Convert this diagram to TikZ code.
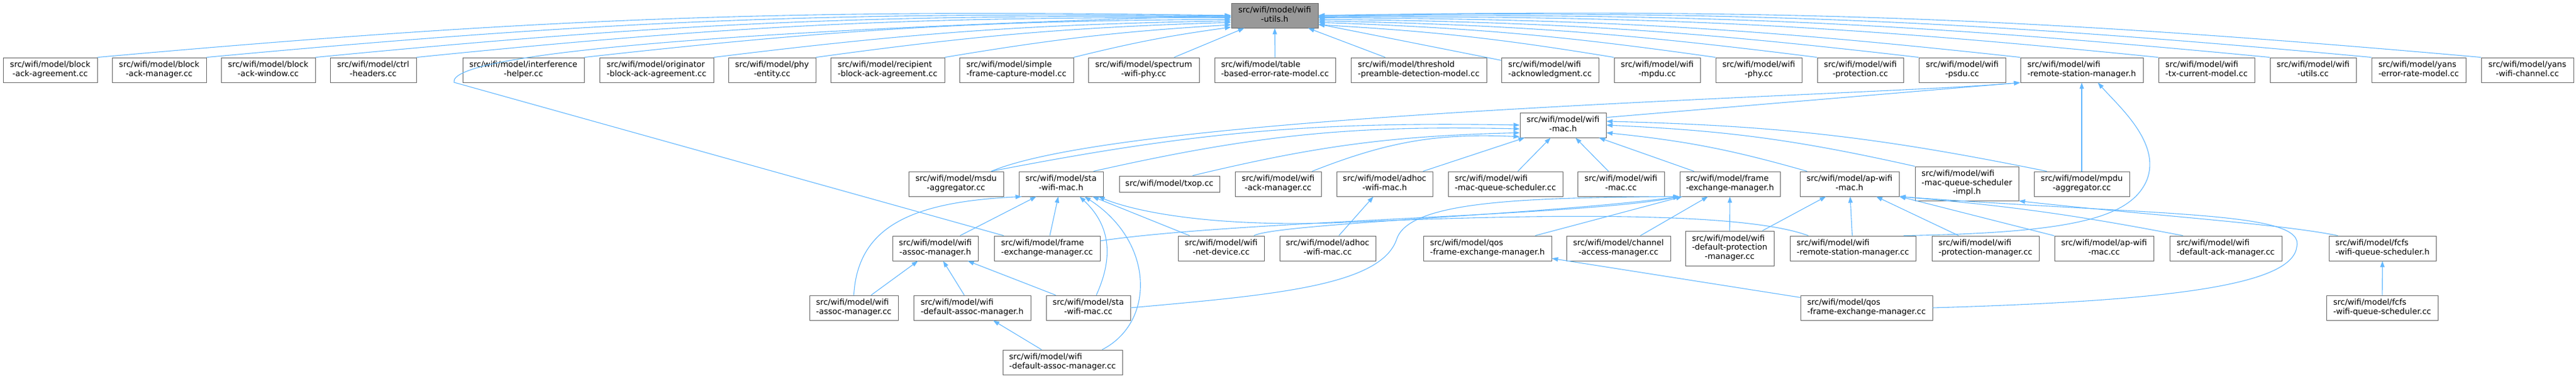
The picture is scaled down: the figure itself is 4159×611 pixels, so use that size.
\documentclass[tikz,border=0pt]{standalone}
\usepackage{fontspec}
\setmainfont{DejaVu Sans}
\usetikzlibrary{arrows.meta,calc}
\definecolor{edgeblue}{RGB}{99,184,255}
\definecolor{boxline}{RGB}{102,102,102}
\definecolor{rootfill}{RGB}{153,153,153}
\newcommand{\lbltwo}[2]{\begin{tabular}{@{}l@{}}#1\\\multicolumn{1}{@{}c@{}}{#2}\end{tabular}}
\newcommand{\lblthree}[3]{\begin{tabular}{@{}l@{}}#1\\#2\\\multicolumn{1}{@{}c@{}}{#3}\end{tabular}}
\begin{document}
\begin{tikzpicture}[x=1pt,y=1pt,
    srcbox/.style={draw=boxline, fill=white, line width=0.9pt, inner sep=1pt, minimum height=40pt, font=\fontsize{13}{14.5}\selectfont},
    incl/.style={draw=edgeblue, line width=1.1pt, -{Triangle[length=10pt,width=7pt]}},
    arcl/.style={to path={.. controls ($(\tikztostart)!0.39!#1:(\tikztotarget)$) and ($(\tikztotarget)!0.39!-#1:(\tikztostart)$) .. (\tikztotarget)}},
    arcr/.style={to path={.. controls ($(\tikztostart)!0.39!-#1:(\tikztotarget)$) and ($(\tikztotarget)!0.39!#1:(\tikztostart)$) .. (\tikztotarget)}}]
    \fill[white] (0,0) rectangle (4159,611);
    \node[srcbox, fill=rootfill, minimum width=140pt] (utilsH) at (2058,586) {\lbltwo{src/wifi/model/wifi}{-utils.h}};

    \node[srcbox, minimum width=152pt] (blkAgr) at (81,498) {\lbltwo{src/wifi/model/block}{-ack-agreement.cc}};
    \node[srcbox, minimum width=152pt] (blkMgr) at (257,498) {\lbltwo{src/wifi/model/block}{-ack-manager.cc}};
    \node[srcbox, minimum width=152pt] (blkWin) at (433,498) {\lbltwo{src/wifi/model/block}{-ack-window.cc}};
    \node[srcbox, minimum width=139pt] (ctrlHdr) at (602.5,498) {\lbltwo{src/wifi/model/ctrl}{-headers.cc}};
    \node[srcbox, minimum width=196pt] (interf) at (845,498) {\lbltwo{src/wifi/model/interference}{-helper.cc}};
    \node[srcbox, minimum width=184pt] (origAgr) at (1060,498) {\lbltwo{src/wifi/model/originator}{-block-ack-agreement.cc}};
    \node[srcbox, minimum width=141pt] (phyEnt) at (1246.5,498) {\lbltwo{src/wifi/model/phy}{-entity.cc}};
    \node[srcbox, minimum width=184pt] (recipAgr) at (1433,498) {\lbltwo{src/wifi/model/recipient}{-block-ack-agreement.cc}};
    \node[srcbox, minimum width=184pt] (simpleCap) at (1641,498) {\lbltwo{src/wifi/model/simple}{-frame-capture-model.cc}};
    \node[srcbox, minimum width=179pt] (spectrum) at (1846.5,498) {\lbltwo{src/wifi/model/spectrum}{-wifi-phy.cc}};
    \node[srcbox, minimum width=195pt] (tableErr) at (2058.5,498) {\lbltwo{src/wifi/model/table}{-based-error-rate-model.cc}};
    \node[srcbox, minimum width=219pt] (thresh) at (2290.5,498) {\lbltwo{src/wifi/model/threshold}{-preamble-detection-model.cc}};
    \node[srcbox, minimum width=157pt] (ackn) at (2502.5,498) {\lbltwo{src/wifi/model/wifi}{-acknowledgment.cc}};
    \node[srcbox, minimum width=139pt] (mpdu) at (2675.5,498) {\lbltwo{src/wifi/model/wifi}{-mpdu.cc}};
    \node[srcbox, minimum width=139pt] (phy) at (2839.5,498) {\lbltwo{src/wifi/model/wifi}{-phy.cc}};
    \node[srcbox, minimum width=139pt] (prot) at (3003.5,498) {\lbltwo{src/wifi/model/wifi}{-protection.cc}};
    \node[srcbox, minimum width=140pt] (psdu) at (3168,498) {\lbltwo{src/wifi/model/wifi}{-psdu.cc}};
    \node[srcbox, minimum width=198pt] (rsmH) at (3361,498) {\lbltwo{src/wifi/model/wifi}{-remote-station-manager.h}};
    \node[srcbox, minimum width=155pt] (txCur) at (3562.5,498) {\lbltwo{src/wifi/model/wifi}{-tx-current-model.cc}};
    \node[srcbox, minimum width=139pt] (utilsCC) at (3734.5,498) {\lbltwo{src/wifi/model/wifi}{-utils.cc}};
    \node[srcbox, minimum width=152pt] (yansErr) at (3905,498) {\lbltwo{src/wifi/model/yans}{-error-rate-model.cc}};
    \node[srcbox, minimum width=149pt] (yansChan) at (4080.5,498) {\lbltwo{src/wifi/model/yans}{-wifi-channel.cc}};

    \node[srcbox, minimum width=139pt] (macH) at (2523.5,409) {\lbltwo{src/wifi/model/wifi}{-mac.h}};

    \node[srcbox, minimum width=153pt] (msduAgg) at (1543.5,314) {\lbltwo{src/wifi/model/msdu}{-aggregator.cc}};
    \node[srcbox, minimum width=136pt] (staMacH) at (1713,314) {\lbltwo{src/wifi/model/sta}{-wifi-mac.h}};
    \node[srcbox, minimum width=162pt, minimum height=26pt] (txop) at (1888,314) {src/wifi/model/txop.cc};
    \node[srcbox, minimum width=139pt] (ackMgr) at (2063.5,314) {\lbltwo{src/wifi/model/wifi}{-ack-manager.cc}};
    \node[srcbox, minimum width=155pt] (adhocH) at (2235.5,314) {\lbltwo{src/wifi/model/adhoc}{-wifi-mac.h}};
    \node[srcbox, minimum width=185pt] (mqSched) at (2430.5,314) {\lbltwo{src/wifi/model/wifi}{-mac-queue-scheduler.cc}};
    \node[srcbox, minimum width=140pt] (macCC) at (2617,314) {\lbltwo{src/wifi/model/wifi}{-mac.cc}};
    \node[srcbox, minimum width=162pt] (femH) at (2793,314) {\lbltwo{src/wifi/model/frame}{-exchange-manager.h}};
    \node[srcbox, minimum width=160pt] (apH) at (2986,314) {\lbltwo{src/wifi/model/ap-wifi}{-mac.h}};
    \node[srcbox, minimum width=167pt, minimum height=55pt] (schedImpl) at (3175.5,314.5) {\lblthree{src/wifi/model/wifi}{-mac-queue-scheduler}{-impl.h}};
    \node[srcbox, minimum width=154pt] (mpduAgg) at (3361,314) {\lbltwo{src/wifi/model/mpdu}{-aggregator.cc}};

    \node[srcbox, minimum width=138pt] (assocH) at (1510,210) {\lbltwo{src/wifi/model/wifi}{-assoc-manager.h}};
    \node[srcbox, minimum width=171pt] (femCC) at (1690.5,210) {\lbltwo{src/wifi/model/frame}{-exchange-manager.cc}};
    \node[srcbox, minimum width=139pt] (netDev) at (1971.5,210) {\lbltwo{src/wifi/model/wifi}{-net-device.cc}};
    \node[srcbox, minimum width=155pt] (adhocCC) at (2143.5,210) {\lbltwo{src/wifi/model/adhoc}{-wifi-mac.cc}};
    \node[srcbox, minimum width=207pt] (qosFemH) at (2401.5,210) {\lbltwo{src/wifi/model/qos}{-frame-exchange-manager.h}};
    \node[srcbox, minimum width=168pt] (chanAcc) at (2613,210) {\lbltwo{src/wifi/model/channel}{-access-manager.cc}};
    \node[srcbox, minimum width=143pt, minimum height=56pt] (defProt) at (2792.5,210) {\lblthree{src/wifi/model/wifi}{-default-protection}{-manager.cc}};
    \node[srcbox, minimum width=203pt] (rsmCC) at (2991.5,210) {\lbltwo{src/wifi/model/wifi}{-remote-station-manager.cc}};
    \node[srcbox, minimum width=173pt] (protMgr) at (3205.5,210) {\lbltwo{src/wifi/model/wifi}{-protection-manager.cc}};
    \node[srcbox, minimum width=160pt] (apCC) at (3397,210) {\lbltwo{src/wifi/model/ap-wifi}{-mac.cc}};
    \node[srcbox, minimum width=181pt] (defAck) at (3593.5,210) {\lbltwo{src/wifi/model/wifi}{-default-ack-manager.cc}};
    \node[srcbox, minimum width=173pt] (fcfsH) at (3846.5,210) {\lbltwo{src/wifi/model/fcfs}{-wifi-queue-scheduler.h}};

    \node[srcbox, minimum width=143pt] (assocCC) at (1378.5,114) {\lbltwo{src/wifi/model/wifi}{-assoc-manager.cc}};
    \node[srcbox, minimum width=189pt] (defAssocH) at (1569.5,114) {\lbltwo{src/wifi/model/wifi}{-default-assoc-manager.h}};
    \node[srcbox, minimum width=136pt] (staMacCC) at (1757,114) {\lbltwo{src/wifi/model/sta}{-wifi-mac.cc}};
    \node[srcbox, minimum width=213pt] (qosFemCC) at (3013.5,114) {\lbltwo{src/wifi/model/qos}{-frame-exchange-manager.cc}};
    \node[srcbox, minimum width=180pt] (fcfsCC) at (3846,114) {\lbltwo{src/wifi/model/fcfs}{-wifi-queue-scheduler.cc}};

    \node[srcbox, minimum width=193pt] (defAssocCC) at (1715.5,26) {\lbltwo{src/wifi/model/wifi}{-default-assoc-manager.cc}};

    \foreach \n/\a in {blkAgr/180, blkMgr/181, blkWin/182, ctrlHdr/183, interf/185, origAgr/187, phyEnt/189, recipAgr/192, simpleCap/195}
        \draw[incl] (\n.north east) to[arcl=3] (utilsH.\a);
    \foreach \n in {spectrum, tableErr, thresh, ackn}
        \draw[incl] (\n) -- (utilsH);
    \foreach \n/\a in {mpdu/348, phy/351, prot/353, psdu/355, rsmH/357, txCur/358, utilsCC/359, yansErr/0, yansChan/0}
        \draw[incl] (\n.north west) to[arcr=3] (utilsH.\a);
    \coordinate (femBend) at (733,478);
    \draw[incl] ([xshift=16pt]femCC.north west) -- (femBend) .. controls (725,520) and (1100,560) .. (utilsH.west);

    \draw[incl] ([xshift=-20pt]msduAgg.north east) to[arcl=6] (macH.west);
    \draw[incl] ([xshift=-16pt]staMacH.north east) to[arcl=7] (macH.185);
    \draw[incl] ([xshift=-44pt]txop.north east) to[arcl=6] (macH.190);
    \draw[incl] ([xshift=-15pt]ackMgr.north east) to[arcl=12] (macH.195);
    \foreach \n in {adhocH, mqSched, macCC, femH}
        \draw[incl] (\n) -- (macH);
    \draw[incl] ([xshift=12pt]apH.north west) to[arcr=5] (macH.-10);
    \draw[incl] (schedImpl.north west) to[arcr=5] (macH.east);
    \draw[incl] ([xshift=21pt]mpduAgg.north west) to[arcr=5] (macH.5);

    \draw[incl] (macH.10) -- (rsmH.south west);
    \draw[incl] ([xshift=-20pt]msduAgg.north east) .. controls (1830,430) and (3000,455) .. (rsmH.south west);
    \draw[incl] (mpduAgg) -- (rsmH);
    \draw[incl] ([xshift=-20pt]rsmCC.north east) .. controls (3350,235) and (3440,260) .. (3466,320) .. controls (3490,380) and (3420,440) .. ([xshift=26pt]rsmH.south);

    \foreach \n in {qosFemH, chanAcc, defProt}
        \draw[incl] (\n) -- (femH);
    \draw[incl] (femCC.8) .. controls (2000,255) and (2550,262) .. (femH.south west);
    \draw[incl] ([xshift=-17pt]netDev.north east) .. controls (2060,250) and (2500,265) .. (femH.south west);
    \draw[incl] (staMacCC.east) .. controls (2060,135) and (2230,150) .. (2255,225) .. controls (2275,285) and (2450,292) .. (femH.south west);

    \draw[incl] (assocCC.north) .. controls (1385,250) and (1480,285) .. ([xshift=5pt]staMacH.south west);
    \foreach \n in {assocH, femCC, netDev}
        \draw[incl] (\n) -- (staMacH);
    \draw[incl] ([xshift=13pt]staMacCC.north) .. controls (1800,200) and (1790,250) .. ([xshift=30pt]staMacH.south);
    \draw[incl] ([xshift=-33pt]defAssocCC.north east) .. controls (1865,90) and (1865,220) .. ([xshift=38pt]staMacH.south);
    \draw[incl] ([xshift=30pt]rsmCC.north west) .. controls (2800,275) and (2400,262) .. (2150,251) .. controls (1950,245) and (1830,270) .. ([xshift=-8pt]staMacH.south east);

    \foreach \n in {assocCC, defAssocH, staMacCC}
        \draw[incl] (\n) -- (assocH);
    \draw[incl] (defAssocCC) -- (defAssocH);
    \draw[incl] (adhocCC) -- (adhocH);
    \draw[incl] (qosFemCC) -- (qosFemH);

    \foreach \n in {defProt, rsmCC, protMgr, apCC}
        \draw[incl] (\n) -- (apH);
    \draw[incl] ([xshift=22pt]defAck.north west) to[arcr=3] (apH.south east);
    \draw[incl] (qosFemCC.east) .. controls (3500,125) and (3700,150) .. (3708,212) .. controls (3724,270) and (3500,262) .. (apH.south east);

    \draw[incl] ([xshift=15pt]fcfsH.north west) .. controls (3680,250) and (3450,265) .. (schedImpl.south east);
    \draw[incl] (fcfsCC) -- (fcfsH);
\end{tikzpicture}
\end{document}
